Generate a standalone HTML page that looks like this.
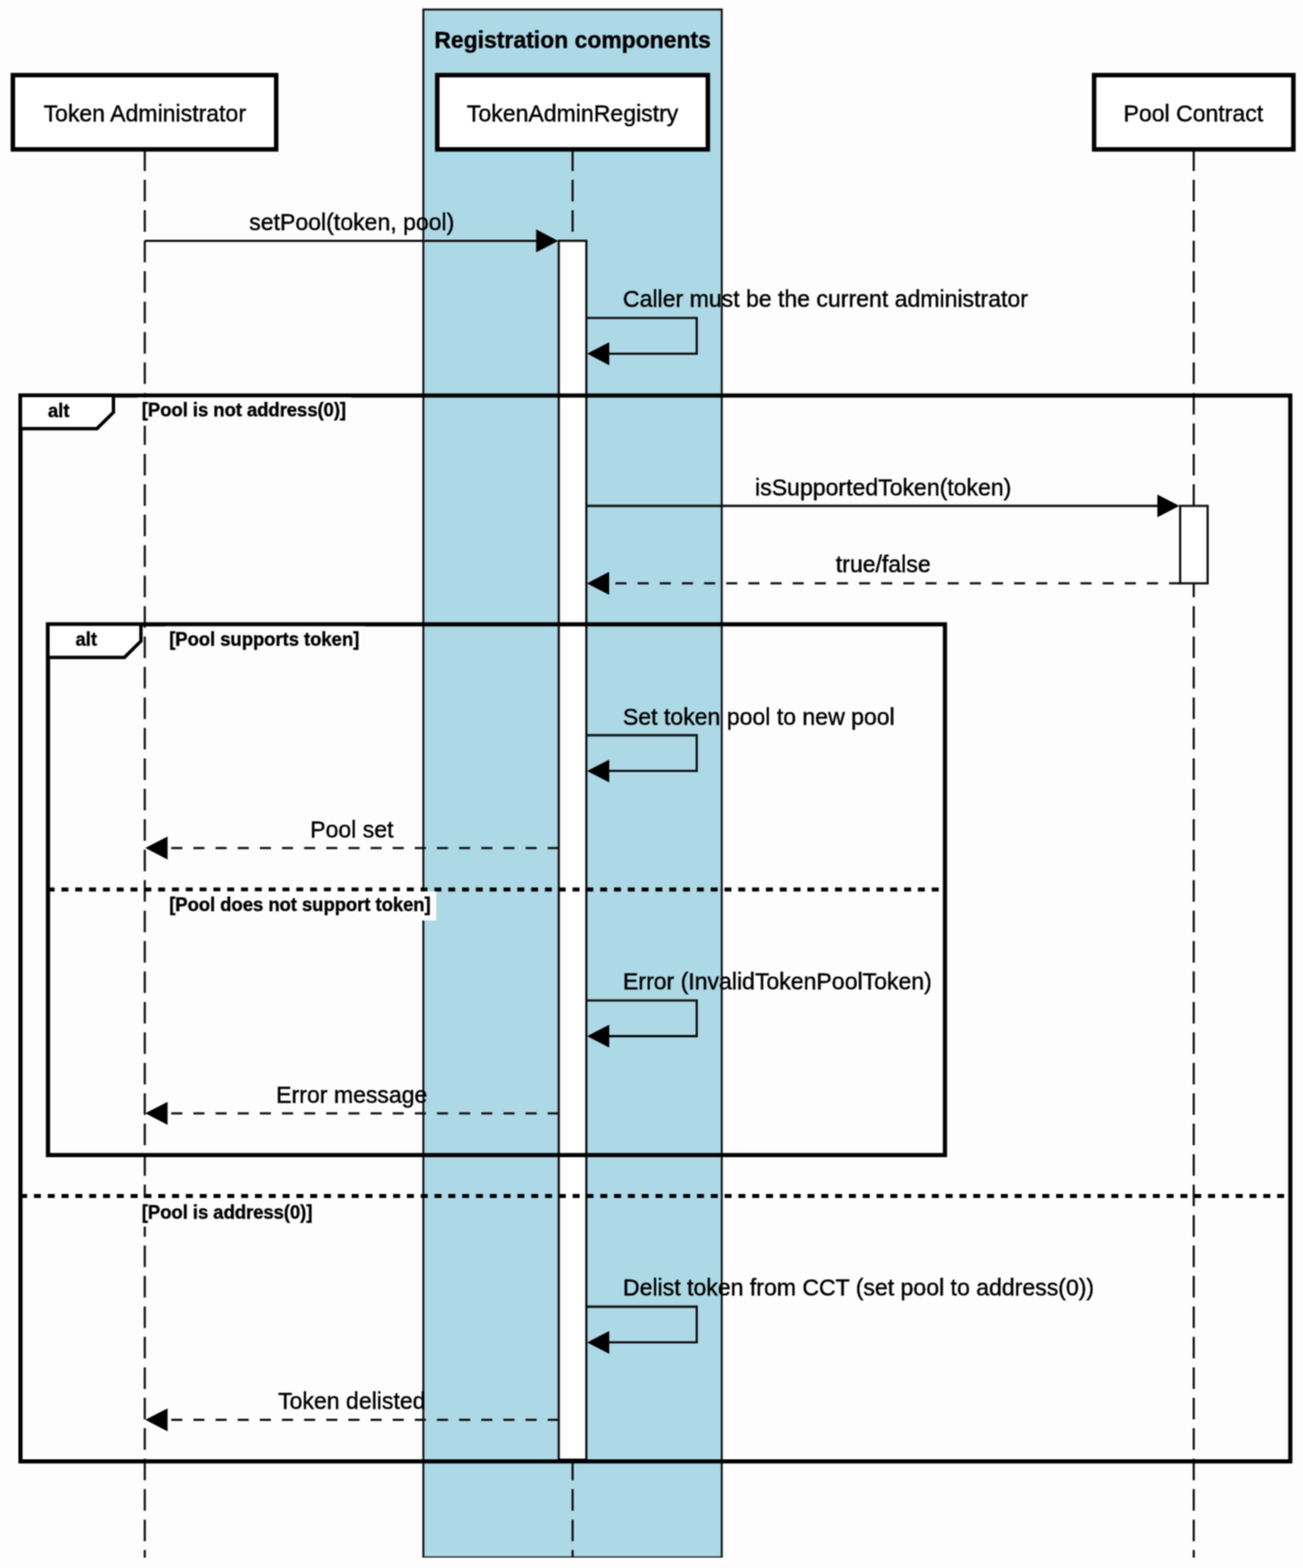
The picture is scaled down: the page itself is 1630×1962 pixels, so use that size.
<!DOCTYPE html>
<html lang="en"><head><meta charset="utf-8"><title>setPool sequence diagram</title>
<style>
html,body{margin:0;padding:0;background:#fdfdfd;}
body{width:1630px;height:1962px;overflow:hidden;}
svg{display:block;}
text{font-family:"Liberation Sans",sans-serif;fill:#000;}
.m{font-size:28.85px;stroke:#000;stroke-width:0.5px;}
.t{font-size:28.7px;font-weight:bold;stroke:#000;stroke-width:0.5px;}
.l{font-size:23.0px;font-weight:bold;stroke:#000;stroke-width:0.45px;}
.box{fill:#fff;stroke:#000;stroke-width:5.6;}
.act{fill:#fff;stroke:#111;stroke-width:2.8;}
.life{fill:none;stroke:#111;stroke-width:2.7;stroke-dasharray:27 11.1;}
.line{fill:none;stroke:#111;stroke-width:2.8;}
.ret{fill:none;stroke:#111;stroke-width:2.8;stroke-dasharray:13.85 13.85;}
.frame{fill:none;stroke:#000;stroke-width:5.2;}
.div{fill:none;stroke:#000;stroke-width:5.2;stroke-dasharray:8.7 8.58;}
.tag{fill:#fff;stroke:#000;stroke-width:4.2;stroke-linejoin:miter;}
.lbg{fill:#fdfdfd;}
.head{fill:#000;stroke:none;}
</style></head><body>
<svg width="1630" height="1962" viewBox="0 0 1630 1962">
<defs><clipPath id="c"><rect x="0" y="0" width="1630" height="1949"/></clipPath>
<filter id="soft" filterUnits="userSpaceOnUse" x="0" y="0" width="1630" height="1962" color-interpolation-filters="sRGB"><feConvolveMatrix order="3" kernelMatrix="1 2 1 2 4 2 1 2 1" divisor="16" edgeMode="duplicate" preserveAlpha="true"/></filter></defs>
<g filter="url(#soft)">
<rect x="0" y="0" width="1630" height="1962" fill="#fdfdfd"/>
<g clip-path="url(#c)">
<rect x="529.6" y="11.9" width="373.3" height="1936.9" fill="#add8e6" stroke="#111" stroke-width="2.5"/>
<text class="t" x="716.3" y="60.4" text-anchor="middle">Registration components</text>
<path class="life" d="M181.1 186.9V1960"/>
<path class="life" d="M716.3 186.9V1960"/>
<path class="life" d="M1493.3 186.9V1960"/>
<rect class="box" x="16.10" y="94.00" width="329.40" height="92.90"/>
<text class="m" x="181.1" y="152.4" text-anchor="middle">Token Administrator</text>
<rect class="box" x="547.00" y="94.00" width="338.50" height="92.90"/>
<text class="m" x="716.3" y="152.4" text-anchor="middle">TokenAdminRegistry</text>
<rect class="box" x="1368.70" y="94.00" width="249.30" height="92.90"/>
<text class="m" x="1492.8" y="152.4" text-anchor="middle">Pool Contract</text>
<rect class="act" x="699.0" y="301.3" width="34.5" height="1525.2"/>
<rect class="act" x="1476.3" y="633.0" width="34.4" height="96.9"/>
<rect class="frame" x="25.6" y="494.9" width="1588.5" height="1333.7"/>
<path class="div" d="M25.2 1496.5H1614.1"/>
<path class="tag" d="M25.6 494.9H141.9V515.9L121.3 536.3H25.6Z"/>
<text class="l" x="73.5" y="521.9" text-anchor="middle">alt</text>
<rect class="lbg" x="172.0" y="497.4" width="267.9" height="35.2"/>
<text class="l" x="177.4" y="520.6">[Pool is not address(0)]</text>
<rect class="lbg" x="172.0" y="1499.0" width="225.7" height="35.8"/>
<text class="l" x="177.4" y="1525.3">[Pool is address(0)]</text>
<rect class="frame" x="60.0" y="781.2" width="1122.1" height="664.1"/>
<path class="div" d="M59.6 1113.0H1182.1"/>
<path class="tag" d="M60.0 781.2H176.3V802.2L155.7 822.6H60.0Z"/>
<text class="l" x="107.9" y="808.2" text-anchor="middle">alt</text>
<rect class="lbg" x="206.3" y="783.7" width="249.9" height="36.3"/>
<text class="l" x="211.7" y="808.2">[Pool supports token]</text>
<rect class="lbg" x="206.3" y="1115.5" width="339.4" height="36.3"/>
<text class="l" x="211.7" y="1140.1">[Pool does not support token]</text>
<path class="line" d="M181.1 301.4H678.3"/>
<path class="head" d="M698.3 301.4L670.7 287.1V315.7Z"/>
<text class="m" x="440.1" y="287.7" text-anchor="middle">setPool(token, pool)</text>
<path class="line" d="M733.5 397.9H871.6V442.6H753.5"/>
<path class="head" d="M734.5 442.6L762.1 428.3V456.9Z"/>
<text class="m" x="779.3" y="383.9">Caller must be the current administrator</text>
<path class="line" d="M733.5 633.0H1455.4"/>
<path class="head" d="M1475.4 633.0L1447.8 618.7V647.3Z"/>
<text class="m" x="1104.9" y="620.2" text-anchor="middle">isSupportedToken(token)</text>
<path class="ret" d="M1476.3 729.9H754.8"/>
<path class="head" d="M734.2 729.9L762.0 715.6V744.2Z"/>
<text class="m" x="1104.9" y="715.7" text-anchor="middle">true/false</text>
<path class="line" d="M733.5 920.0H871.6V964.7H753.5"/>
<path class="head" d="M734.5 964.7L762.1 950.4V979.0Z"/>
<text class="m" x="779.3" y="906.5">Set token pool to new pool</text>
<path class="ret" d="M699.0 1061.1H202.4"/>
<path class="head" d="M181.8 1061.1L209.6 1046.8V1075.4Z"/>
<text class="m" x="440.1" y="1048.1" text-anchor="middle">Pool set</text>
<path class="line" d="M733.5 1251.8H871.6V1296.5H753.5"/>
<path class="head" d="M734.5 1296.5L762.1 1282.2V1310.8Z"/>
<text class="m" x="779.3" y="1238.4">Error (InvalidTokenPoolToken)</text>
<path class="ret" d="M699.0 1393.1H202.4"/>
<path class="head" d="M181.8 1393.1L209.6 1378.8V1407.4Z"/>
<text class="m" x="440.1" y="1380.1" text-anchor="middle">Error message</text>
<path class="line" d="M733.5 1635.0H871.6V1679.7H753.5"/>
<path class="head" d="M734.5 1679.7L762.1 1665.4V1694.0Z"/>
<text class="m" x="779.3" y="1621.0">Delist token from CCT (set pool to address(0))</text>
<path class="ret" d="M699.0 1776.6H202.4"/>
<path class="head" d="M181.8 1776.6L209.6 1762.3V1790.9Z"/>
<text class="m" x="440.1" y="1762.6" text-anchor="middle">Token delisted</text>
</g>
</g>
</svg>
</body></html>
